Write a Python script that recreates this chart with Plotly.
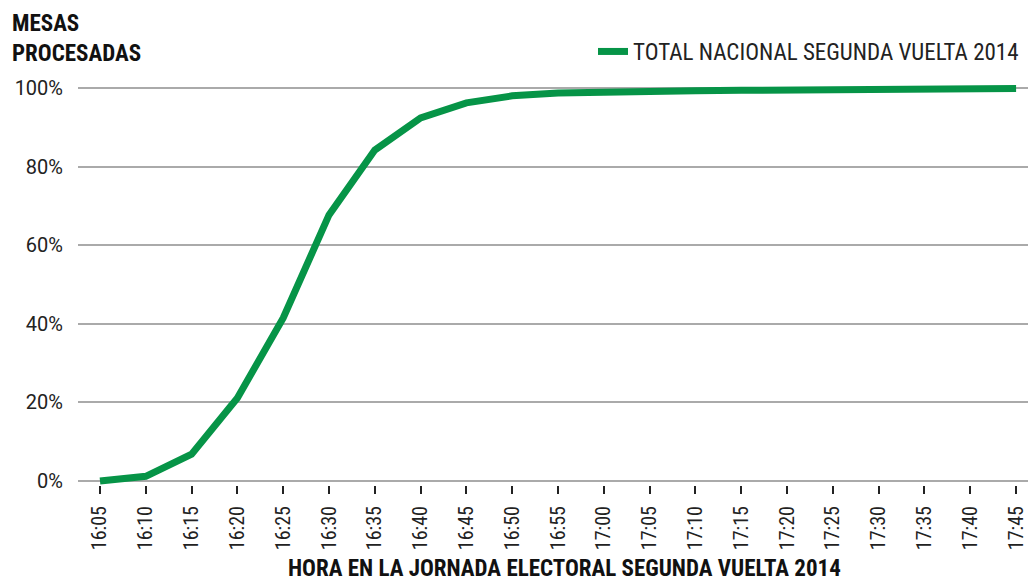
import plotly.graph_objects as go

horas = ["16:05", "16:10", "16:15", "16:20", "16:25", "16:30", "16:35", "16:40", "16:45", "16:50",
         "16:55", "17:00", "17:05", "17:10", "17:15", "17:20", "17:25", "17:30", "17:35", "17:40", "17:45"]
mesas_pct = [0.0, 1.2, 6.8, 21.1, 41.5, 67.7, 84.2, 92.4, 96.2, 98.0,
             98.7, 99.0, 99.2, 99.3, 99.4, 99.5, 99.55, 99.6, 99.7, 99.8, 99.85]
y_ticks = [0, 20, 40, 60, 80, 100]
y_labels = ["0%", "20%", "40%", "60%", "80%", "100%"]
serie_nombre = "TOTAL NACIONAL SEGUNDA VUELTA 2014"

COND = "Roboto Condensed, Liberation Sans Narrow, Arial Narrow, Roboto, sans-serif"
GREEN = "#069447"

fig = go.Figure()
fig.add_trace(go.Scatter(
    x=list(range(len(horas))), y=mesas_pct, mode="lines", name=serie_nombre,
    line=dict(color=GREEN, width=7),
))

fig.update_layout(
    width=1028, height=581,
    margin=dict(l=78, r=0, t=80, b=96, autoexpand=False),
    paper_bgcolor="white", plot_bgcolor="white",
    showlegend=True,
    legend=dict(x=1 - 4 / 1028, xanchor="right", y=1 - 30 / 581, yanchor="top",
                xref="container", yref="container",
                font=dict(family=COND, size=23, color="#222"),
                bgcolor="rgba(0,0,0,0)"),
    xaxis=dict(
        range=[-0.48, 20.26], tickmode="array", tickvals=list(range(len(horas))), ticktext=horas,
        tickangle=-90, ticks="outside", ticklen=8, tickwidth=1.5, tickcolor="#222",
        showgrid=False, zeroline=False, showline=False,
        tickfont=dict(family=COND, size=20, color="#222"), ticklabelstandoff=4,
    ),
    yaxis=dict(
        range=[-1.02, 102.03], tickmode="array", tickvals=y_ticks, ticktext=y_labels,
        showgrid=True, gridcolor="#aaaaaa", gridwidth=1.5, zeroline=False, showline=False,
        tickfont=dict(family="Roboto, sans-serif", size=20, color="#222"), ticklabelstandoff=14,
    ),
    annotations=[
        dict(text="<b>MESAS<br>PROCESADAS</b>", xref="paper", yref="paper",
             x=-(78 - 10) / 950, y=1 + (80 - 8) / 405, xanchor="left", yanchor="top",
             align="left", showarrow=False,
             font=dict(family=COND, size=23, color="#111")),
        dict(text="<b>HORA EN LA JORNADA ELECTORAL SEGUNDA VUELTA 2014</b>",
             xref="paper", yref="paper", x=(564 - 78) / 950, y=-(568 - 485) / 405,
             xanchor="center", yanchor="middle", showarrow=False,
             font=dict(family=COND, size=23, color="#111")),
    ],
)

fig.write_html("out.html", config={"displayModeBar": False},
               post_script="document.body.style.margin='0px';")
